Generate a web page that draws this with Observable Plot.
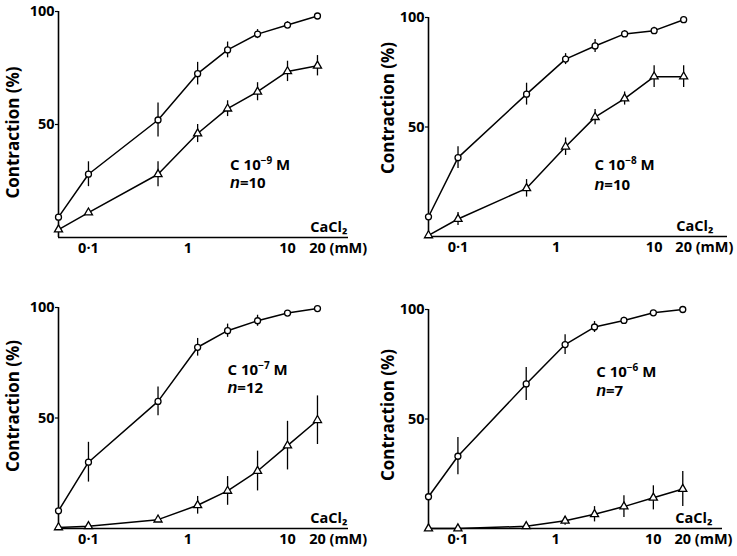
<!DOCTYPE html>
<html>
<head>
<meta charset="utf-8">
<script src="https://cdn.jsdelivr.net/npm/d3@7"></script>
<script src="https://cdn.jsdelivr.net/npm/@observablehq/plot@0.6"></script>
<style>
  html, body { margin: 0; padding: 0; background: #fff; }
  #chart { position: relative; width: 737px; height: 556px; background: #fff; }
  #chart > svg { position: absolute; }
</style>
</head>
<body>
<div id="chart"></div>
<script>
// CaCl2 concentrations (mM); the first point is the Ca-free baseline on the y axis
const conc = [0.05, 0.1, 0.5, 1.25, 2.5, 5, 10, 20];
const xTicks = [0.1, 1, 10, 20];
const xTickLabels = ["0·1", "1", "10", "20"];
const yTicks = [50, 100];
const unitLabel = "(mM)";
const agentLabel = "CaCl₂";
const yLabel = "Contraction (%)";

const panelTitles = ["C 10⁻⁹ M", "C 10⁻⁸ M", "C 10⁻⁷ M", "C 10⁻⁶ M"];
const panelN = ["n=10", "n=10", "n=12", "n=7"];

// circles: control; triangles: in presence of C
const ctrl1 = [9, 28, 52, 72.5, 83, 90, 94, 98];
const ctrlErr1 = [0, 5.5, 7.5, 5, 3.5, 2, 1.5, 0];
const drug1 = [3.5, 11, 28, 46, 57, 64.5, 73.5, 76];
const drugErr1 = [0, 0, 5.5, 4, 3.5, 4, 4.5, 4.5];

const ctrl2 = [9, 36, 65, 81, 87, 92.5, 94, 99];
const ctrlErr2 = [0, 5, 5, 2.5, 3, 1.5, 1.5, 0];
const drug2 = [0.5, 8, 22, 41, 54.5, 63, 73, 73];
const drugErr2 = [0, 3, 4, 4, 3.5, 3, 5, 5];

const ctrl3 = [8, 30, 57.5, 82, 89.5, 94, 97.5, 99.5];
const ctrlErr3 = [0, 9, 6.5, 4, 3, 2.5, 1, 0];
const drug3 = [0.5, 1, 4, 10.5, 17, 26, 37.5, 49];
const drugErr3 = [0, 0, 0, 4, 6.5, 9, 11, 11];

const ctrl4 = [14.5, 33, 66, 84, 92, 95, 98.5, 100];
const ctrlErr4 = [0, 8.5, 7.5, 4.5, 2.5, 1.5, 0, 0];
const drug4 = [0, 0, 1, 3.5, 6.5, 10, 14, 18];
const drugErr4 = [0, 0, 0, 2, 3.5, 5, 5.5, 8];

// annotation anchors (data units): left edge and vertical centre of the two-line label
const noteX = [2.65, 2.47, 2.5, 2.6];
const noteY = [28.3, 28.8, 68, 67.7];

const series = [
  [ctrl1, ctrlErr1, drug1, drugErr1],
  [ctrl2, ctrlErr2, drug2, drugErr2],
  [ctrl3, ctrlErr3, drug3, drugErr3],
  [ctrl4, ctrlErr4, drug4, drugErr4]
];

// layout of the four panels
const layout = [
  {left: 0,   top: 0,   ml: 58, mt: 11, mb: 41, mr: 20, xmax: 41, lh: 1.2,  ldx: -45, ldy: 8},
  {left: 369, top: 0,   ml: 59, mt: 17, mb: 42, mr: 10, xmax: 56, lh: 1.33, ldx: -40, ldy: -19},
  {left: 0,   top: 278, ml: 58, mt: 29, mb: 28, mr: 20, xmax: 41, lh: 1.2,  ldx: -45, ldy: -12},
  {left: 369, top: 278, ml: 59, mt: 31, mb: 28, mr: 15, xmax: 51, lh: 1.27, ldx: -40, ldy: -4}
];

const FONT = "'Open Sans', 'DejaVu Sans', sans-serif";
const SUP = {"⁻": "−", "⁶": "6", "⁷": "7", "⁸": "8", "⁹": "9"};

function makePanel(i) {
  const [c, ce, d, de] = series[i];
  const L = layout[i];
  const ctrlData = conc.map((x, k) => ({x, y: c[k], e: ce[k]}));
  const drugData = conc.map((x, k) => ({x, y: d[k], e: de[k]}));
  const errs = ctrlData.concat(drugData).filter(p => p.e > 0);
  const fmt = new Map(xTicks.map((t, k) => [t, xTickLabels[k]]));

  const svg = Plot.plot({
    width: 368, height: 278,
    marginLeft: L.ml, marginTop: L.mt, marginBottom: L.mb, marginRight: L.mr,
    style: {fontFamily: FONT, background: "white", color: "black", overflow: "visible"},
    x: {type: "log", domain: [conc[0], L.xmax], axis: null},
    y: {domain: [0, 100], axis: null},
    marks: [
      Plot.ruleX([conc[0]], {stroke: "black", strokeWidth: 1.6}),
      Plot.ruleY([0], {stroke: "black", strokeWidth: 1.6}),
      Plot.axisY({ticks: yTicks, tickSize: 3, tickPadding: 1, label: null,
        fontSize: 14.5, fontWeight: "bold", strokeWidth: 1.2}),
      Plot.axisX({ticks: xTicks, tickFormat: t => fmt.get(t), tickSize: 0, tickPadding: 5,
        label: null, fontSize: 14.5, fontWeight: "bold"}),
      Plot.text([unitLabel], {x: () => xTicks[xTicks.length - 1], y: () => 0, dx: 12, dy: 11,
        textAnchor: "start", lineAnchor: "middle", fontSize: 14.5, fontWeight: "bold"}),
      Plot.text([agentLabel], {x: () => 26, y: () => 0, dy: -10,
        textAnchor: "middle", lineAnchor: "middle", fontSize: 14.5, fontWeight: "bold"}),
      Plot.text([yLabel], {frameAnchor: "left", rotate: -90, dx: L.ldx, dy: L.ldy,
        textAnchor: "middle", fontSize: 17, fontWeight: "bold"}),
      Plot.text([panelTitles[i] + "\n" + panelN[i]], {x: () => noteX[i], y: () => noteY[i],
        textAnchor: "start", lineAnchor: "middle", lineHeight: L.lh, fontSize: 15, fontWeight: "bold"}),
      Plot.ruleX(errs, {x: "x", y1: p => p.y - p.e, y2: p => p.y + p.e, stroke: "black", strokeWidth: 1.3}),
      Plot.line(ctrlData, {x: "x", y: "y", stroke: "black", strokeWidth: 1.5}),
      Plot.line(drugData, {x: "x", y: "y", stroke: "black", strokeWidth: 1.5}),
      Plot.dot(ctrlData, {x: "x", y: "y", symbol: "circle", r: 3, fill: "white", stroke: "black", strokeWidth: 1.3}),
      Plot.dot(drugData, {x: "x", y: "y", symbol: "triangle", r: 3, fill: "white", stroke: "black", strokeWidth: 1.3})
    ]
  });
  svg.style.left = L.left + "px";
  svg.style.top = L.top + "px";
  const NS = "http://www.w3.org/2000/svg";
  const span = (txt, attrs) => {
    const s = document.createElementNS(NS, "tspan");
    for (const k in attrs) s.setAttribute(k, attrs[k]);
    s.textContent = txt;
    return s;
  };
  svg.querySelectorAll("text, tspan").forEach(t => {
    if (t.children.length) return;
    const s = t.textContent;
    if (/^n=/.test(s)) {
      // italic "n"
      t.textContent = "";
      t.appendChild(span("n", {"font-style": "italic", "font-family": "'Liberation Sans'", "font-size": 16}));
      t.appendChild(span(s.slice(1), {}));
    } else if (/[⁻⁶⁷⁸⁹]/.test(s)) {
      // superscript exponent drawn in the same font
      const m = s.match(/^([^⁻⁶⁷⁸⁹]*)([⁻⁶⁷⁸⁹]+)(.*)$/);
      const exp = Array.from(m[2]).map(ch => SUP[ch]).join("");
      t.textContent = "";
      t.appendChild(span(m[1], {}));
      t.appendChild(span(exp, {"font-size": 10, dy: -6}));
      t.appendChild(span(m[3], {dy: 6}));
    }
  });
  return svg;
}

const chart = document.getElementById("chart");
for (let i = 0; i < 4; i++) chart.appendChild(makePanel(i));
</script>
</body>
</html>
